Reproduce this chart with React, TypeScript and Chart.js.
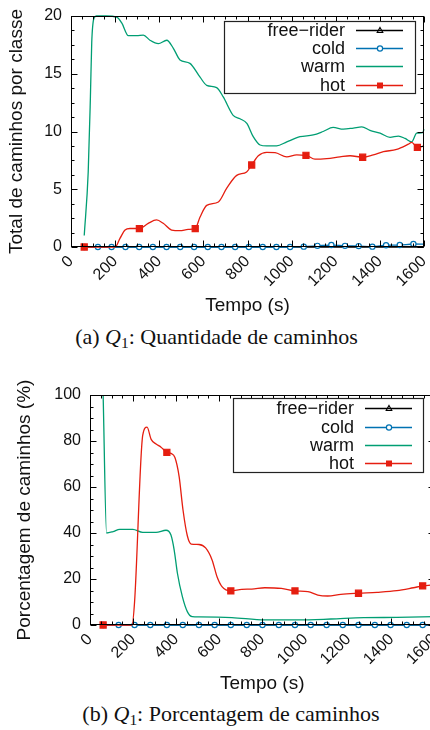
import React, { useEffect, useRef } from 'react';
import { Chart, registerables } from 'chart.js';

Chart.register(...registerables);

const FONT = "'Liberation Sans', Arial, Helvetica, sans-serif";
Chart.defaults.font.family = FONT;
Chart.defaults.color = '#111';

// ---------- shared axis / legend text ----------
const X_TICKS = [0, 200, 400, 600, 800, 1000, 1200, 1400, 1600];
const Y1_TICKS = [0, 5, 10, 15, 20];
const Y2_TICKS = [0, 20, 40, 60, 80, 100];
const SERIES = ['free−rider', 'cold', 'warm', 'hot'];
const X_TITLE = 'Tempo (s)';
const Y1_TITLE = 'Total de caminhos por classe';
const Y2_TITLE = 'Porcentagem de caminhos (%)';

// ---------- (a) Quantidade de caminhos ----------
const COLD1_T = [60, 122, 184, 247, 309, 371, 433, 495, 558, 620, 682, 744, 806, 869, 931, 993, 1055, 1117, 1180, 1242, 1304, 1366, 1428, 1490, 1552, 1600];
const COLD1_Y = [0, 0, 0, 0, 0, 0, 0, 0, 0, 0, 0, 0, 0, 0, 0, 0, 0.03, 0.1, 0.17, 0.1, 0.08, 0.03, 0.15, 0.17, 0.26, 0.25];
const FREE1_Y = [0, 0, 0, 0, 0, 0, 0, 0, 0, 0, 0, 0, 0, 0, 0, 0, 0, 0, 0, 0, 0, 0, 0, 0, 0, 0];
const WARM1_T = [60, 78, 88, 94, 104, 115, 160, 207, 230, 260, 298, 328, 358, 396, 434, 464, 494, 539, 585, 615, 660, 690, 735, 766, 797, 826, 857, 887, 932, 978, 1038, 1098, 1143, 1188, 1234, 1280, 1318, 1355, 1401, 1446, 1484, 1514, 1544, 1567, 1594, 1600];
const WARM1_Y = [1.0, 6.5, 13, 17.7, 19.8, 20, 20, 19.9, 19.4, 18.3, 18.3, 18.35, 17.9, 17.6, 17.9, 17.2, 16.2, 15.9, 14.7, 14.0, 13.8, 13.0, 11.4, 11.1, 10.7, 9.55, 8.83, 8.75, 8.75, 9.1, 9.55, 9.7, 10.0, 10.35, 10.2, 10.3, 10.4, 10.1, 9.85, 9.5, 9.6, 9.4, 9.1, 9.85, 9.9, 10.2];
const HOT1_T = [60, 120, 200, 222, 245, 267, 310, 350, 388, 418, 456, 494, 531, 563, 585, 615, 668, 706, 751, 796, 819, 849, 887, 925, 978, 1023, 1065, 1106, 1159, 1219, 1265, 1322, 1370, 1416, 1476, 1529, 1544, 1570, 1600];
const HOT1_Y = [0, 0, 0, 0.75, 1.47, 1.6, 1.6, 2.05, 2.34, 2.05, 1.47, 1.41, 1.53, 1.6, 2.6, 3.6, 3.9, 5.1, 6.2, 6.5, 7.1, 7.9, 8.2, 8.17, 7.8, 7.97, 7.94, 7.6, 7.65, 7.8, 7.9, 7.77, 7.97, 8.25, 8.45, 8.9, 9.05, 8.63, 8.75];
const HOT1_MARKS = [60, 310, 563, 819, 1065, 1322, 1570];

// ---------- (b) Porcentagem de caminhos ----------
const COLD2_T = [61, 133, 207, 280, 357, 431, 506, 579, 654, 728, 801, 877, 952, 1025, 1099, 1174, 1247, 1323, 1396, 1471, 1545, 1600];
const COLD2_Y = [0, 0, 0, 0, 0, 0, 0, 0, 0, 0, 0, 0, 0, 0, 0, 0, 0, 0, 0, 0, 0, 0];
const FREE2_Y = [0, 0, 0, 0, 0, 0, 0, 0, 0, 0, 0, 0, 0, 0, 0, 0, 0, 0, 0, 0, 0, 0];
const WARM2_T = [61, 77, 107, 138, 199, 245, 307, 353, 376, 391, 406, 429, 452, 475, 506, 659, 812, 966, 1119, 1272, 1425, 1600];
const WARM2_Y = [100, 40, 40.6, 41.6, 41.6, 40.3, 40.3, 41.2, 39.1, 32.6, 22.5, 12.3, 5.8, 3.6, 3.5, 3.2, 2.2, 2.2, 2.6, 3.2, 3.3, 3.6];
const HOT2_T = [61, 133, 195, 207, 245, 265, 284, 307, 330, 357, 376, 394, 414, 432, 452, 470, 506, 537, 567, 590, 613, 654, 705, 751, 812, 889, 952, 1012, 1058, 1104, 1165, 1247, 1333, 1425, 1502, 1545, 1600];
const HOT2_Y = [0, 0, 0, 10, 82.6, 86, 80.7, 78.7, 77.3, 75.1, 74.6, 72.9, 64.5, 50, 38.8, 35.2, 35, 33.5, 28.3, 21, 16.7, 14.8, 15.5, 15.6, 16.2, 15.9, 14.8, 14.5, 13.0, 12.6, 13.3, 13.8, 14.2, 14.9, 16.2, 17.0, 17.5];
const HOT2_MARKS = [61, 357, 654, 952, 1247, 1545];

const COLORS = { free: '#000000', cold: '#0072b2', warm: '#009e73', hot: '#e51e10' };

function mk(label: string, T: number[], Y: number[], color: string, marks: number[], style: string, r: number, fill: string) {
  return {
    label,
    data: T.map((t, i) => ({ x: t, y: Y[i] })),
    borderColor: color,
    backgroundColor: color,
    borderWidth: 1.3,
    pointStyle: style,
    pointRadius: T.map((t) => (marks.includes(t) ? r : 0)),
    pointHoverRadius: 0,
    pointBorderColor: color,
    pointBackgroundColor: fill,
    pointBorderWidth: 1.2,
    cubicInterpolationMode: 'monotone',
    fill: false,
    clip: false,
  };
}

function drawMarker(ctx: CanvasRenderingContext2D, kind: string, x: number, y: number) {
  ctx.save();
  if (kind === 'triangle') {
    ctx.strokeStyle = COLORS.free; ctx.lineWidth = 1.1;
    ctx.beginPath();
    ctx.moveTo(x, y - 3); ctx.lineTo(x + 2.8, y + 2); ctx.lineTo(x - 2.8, y + 2); ctx.closePath();
    ctx.stroke();
  } else if (kind === 'circle') {
    ctx.strokeStyle = COLORS.cold; ctx.fillStyle = '#fff'; ctx.lineWidth = 1.2;
    ctx.beginPath(); ctx.arc(x, y, 2.6, 0, Math.PI * 2); ctx.fill(); ctx.stroke();
  } else if (kind === 'rect') {
    ctx.fillStyle = COLORS.hot; ctx.fillRect(x - 3, y - 3, 6, 6);
  }
  ctx.restore();
}

function decor(s: any) {
  return {
    id: 'decor',
    afterDatasetsDraw(chart: any) {
      const { ctx, chartArea: a, scales } = chart;
      const xs = scales.x, ys = scales.y;
      ctx.save();
      ctx.strokeStyle = '#000';
      ctx.lineWidth = 1;
      const L = Math.round(a.left) + 0.5, R = Math.round(a.right) - 0.5;
      const T = Math.round(a.top) + 0.5, B = Math.round(a.bottom) - 0.5;
      ctx.beginPath();
      for (let i = 0; i < X_TICKS.length; i++) {
        const v = X_TICKS[i];
        const px = Math.round(xs.getPixelForValue(v)) + 0.5;
        ctx.moveTo(px, B); ctx.lineTo(px, B - 6);
        ctx.moveTo(px, T); ctx.lineTo(px, T + 6);
        if (i < X_TICKS.length - 1) {
          const step = (X_TICKS[i + 1] - v) / 4;
          for (let k = 1; k < 4; k++) {
            const mx = Math.round(xs.getPixelForValue(v + k * step)) + 0.5;
            ctx.moveTo(mx, B); ctx.lineTo(mx, B - 3);
            ctx.moveTo(mx, T); ctx.lineTo(mx, T + 3);
          }
        }
      }
      for (let i = 0; i < s.yTicks.length; i++) {
        const v = s.yTicks[i];
        const py = Math.round(ys.getPixelForValue(v)) + 0.5;
        ctx.moveTo(L, py); ctx.lineTo(L + 6, py);
        ctx.moveTo(R, py); ctx.lineTo(R - 6, py);
        if (i < s.yTicks.length - 1) {
          const step = (s.yTicks[i + 1] - v) / 4;
          for (let k = 1; k < 4; k++) {
            const my = Math.round(ys.getPixelForValue(v + k * step)) + 0.5;
            ctx.moveTo(L, my); ctx.lineTo(L + 3, my);
            ctx.moveTo(R, my); ctx.lineTo(R - 3, my);
          }
        }
      }
      ctx.stroke();
      ctx.strokeRect(L, T, R - L, B - T);

      const b = s.legendBox;
      ctx.fillStyle = '#fff';
      ctx.fillRect(b.x, b.y, b.w, b.h);
      ctx.strokeStyle = '#222';
      ctx.lineWidth = 1.2;
      ctx.strokeRect(b.x + 0.5, b.y + 0.5, b.w, b.h);
      ctx.font = `18px ${FONT}`;
      ctx.textAlign = 'right';
      ctx.textBaseline = 'middle';
      const kinds = ['triangle', 'circle', 'none', 'rect'];
      const cols = [COLORS.free, COLORS.cold, COLORS.warm, COLORS.hot];
      SERIES.forEach((lab, i) => {
        const yy = b.y + b.rows[i];
        ctx.fillStyle = '#111';
        ctx.fillText(lab, b.x + 121, yy + 1);
        ctx.strokeStyle = cols[i];
        ctx.lineWidth = 1.3;
        ctx.beginPath();
        ctx.moveTo(b.x + 132, yy + 0.5); ctx.lineTo(b.x + 179, yy + 0.5);
        ctx.stroke();
        drawMarker(ctx, kinds[i], b.x + 156, yy + 0.5);
      });
      ctx.restore();
    },
  };
}

function buildConfig(s: any) {
  const datasets = [
    mk('hot', s.hotT, s.hotY, COLORS.hot, s.hotMarks, 'rect', 4.3, COLORS.hot),
    mk('warm', s.warmT, s.warmY, COLORS.warm, [], 'circle', 0, COLORS.warm),
    mk('cold', s.coldT, s.coldY, COLORS.cold, s.coldT.slice(0, -1), 'circle', 2.6, '#ffffff'),
    mk('free−rider', s.coldT, s.freeY, COLORS.free, [], 'triangle', 0, '#ffffff'),
  ];
  return {
    type: 'line',
    data: { datasets },
    options: {
      animation: false,
      responsive: true,
      maintainAspectRatio: false,
      events: [],
      layout: { padding: s.pad },
      plugins: { legend: { display: false }, tooltip: { enabled: false } },
      scales: {
        x: {
          type: 'linear',
          min: 0,
          max: 1600,
          afterBuildTicks: (sc: any) => { sc.ticks = X_TICKS.map((v) => ({ value: v })); },
          afterFit: (sc: any) => { sc.height = s.xAxisH; sc.paddingLeft = 0; sc.paddingRight = 0; },
          grid: { display: false, drawTicks: false },
          border: { display: false },
          ticks: {
            autoSkip: false, maxRotation: 45, minRotation: 45, padding: s.xTickPad,
            color: '#111', font: { size: 16 }, callback: (v: any) => String(v),
          },
          title: { display: true, text: X_TITLE, color: '#111', font: { size: 19 }, padding: { top: 0, bottom: s.xTitlePad } },
        },
        y: {
          type: 'linear',
          min: 0,
          max: s.yMax,
          afterBuildTicks: (sc: any) => { sc.ticks = s.yTicks.map((v: number) => ({ value: v })); },
          afterFit: (sc: any) => { sc.width = s.yAxisW; sc.paddingTop = 0; sc.paddingBottom = 0; },
          grid: { display: false, drawTicks: false },
          border: { display: false },
          ticks: { padding: 9, color: '#111', font: { size: 16 }, callback: (v: any) => String(v) },
          title: { display: true, text: s.yTitle, color: '#111', font: { size: 19 }, padding: { top: s.yTitlePad, bottom: 0 } },
        },
      },
    },
    plugins: [decor(s)],
  };
}

const SPEC1 = {
  coldT: COLD1_T, coldY: COLD1_Y, freeY: FREE1_Y,
  warmT: WARM1_T, warmY: WARM1_Y,
  hotT: HOT1_T, hotY: HOT1_Y, hotMarks: HOT1_MARKS,
  yMax: 20, yTicks: Y1_TICKS, yTitle: Y1_TITLE,
  pad: { left: 0, top: 16, right: 6, bottom: 0 },
  yAxisW: 71, xAxisH: 75, yTitlePad: 5.6, xTitlePad: 5.2, xTickPad: 5,
  legendBox: { x: 224, y: 21, w: 191, h: 72, rows: [9, 27, 45, 64] },
};

const SPEC2 = {
  coldT: COLD2_T, coldY: COLD2_Y, freeY: FREE2_Y,
  warmT: WARM2_T, warmY: WARM2_Y,
  hotT: HOT2_T, hotY: HOT2_Y, hotMarks: HOT2_MARKS,
  yMax: 100, yTicks: Y2_TICKS, yTitle: Y2_TITLE,
  pad: { left: 0, top: 35, right: 2, bottom: 0 },
  yAxisW: 90, xAxisH: 75, yTitlePad: 13.6, xTitlePad: 4.9, xTickPad: 5,
  legendBox: { x: 233, y: 38, w: 190, h: 74, rows: [10, 29, 47, 65] },
};

const captionStyle: React.CSSProperties = {
  position: 'absolute',
  left: 0,
  textAlign: 'center',
  fontFamily: "'Liberation Serif', 'Times New Roman', serif",
  fontSize: 22,
  lineHeight: '20px',
  color: '#111',
  whiteSpace: 'nowrap',
};

export default function App() {
  const r1 = useRef<HTMLCanvasElement>(null);
  const r2 = useRef<HTMLCanvasElement>(null);
  useEffect(() => {
    const c1 = new Chart(r1.current as HTMLCanvasElement, buildConfig(SPEC1) as any);
    const c2 = new Chart(r2.current as HTMLCanvasElement, buildConfig(SPEC2) as any);
    return () => { c1.destroy(); c2.destroy(); };
  }, []);
  const sub: React.CSSProperties = { fontSize: '0.7em', lineHeight: 0, verticalAlign: '-0.25em' };
  return (
    <div style={{ position: 'fixed', left: 0, top: 0, width: 430, height: 730, overflow: 'hidden', background: '#fff' }}>
      <div style={{ position: 'absolute', left: 0, top: 0, width: 430, height: 322 }}>
        <canvas ref={r1} />
      </div>
      <div style={{ ...captionStyle, top: 327, width: 433 }}>
        (a) <i>Q</i><span style={sub}>1</span>: Quantidade de caminhos
      </div>
      <div style={{ position: 'absolute', left: 0, top: 360, width: 440, height: 340 }}>
        <canvas ref={r2} />
      </div>
      <div style={{ ...captionStyle, top: 704, width: 462 }}>
        (b) <i>Q</i><span style={sub}>1</span>: Porcentagem de caminhos
      </div>
    </div>
  );
}
